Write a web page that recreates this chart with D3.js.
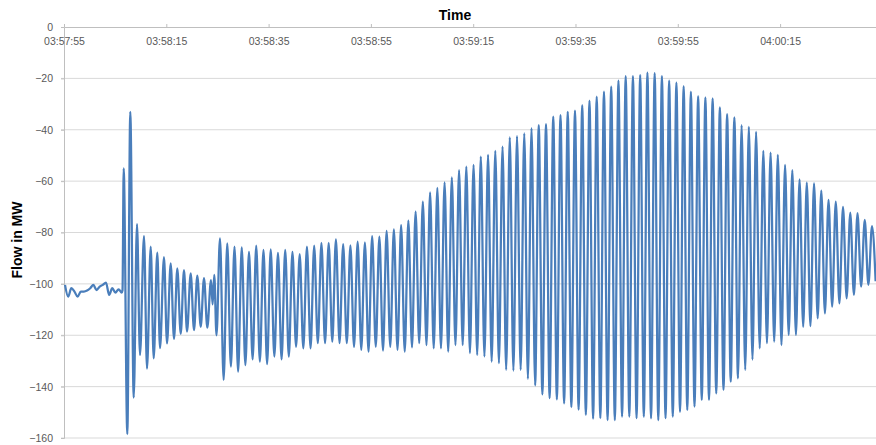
<!DOCTYPE html>
<html>
<head>
<meta charset="utf-8">
<script src="https://cdn.jsdelivr.net/npm/d3@7"></script>
<style>
  body { margin: 0; background: #fff; }
  svg { display: block; }
  text { font-family: "Liberation Sans", Arial, sans-serif; }
</style>
</head>
<body>
<svg id="chart" width="876" height="445"></svg>
<script>
// Axis ticks
const timeTicks = ["03:57:55", "03:58:15", "03:58:35", "03:58:55", "03:59:15", "03:59:35", "03:59:55", "04:00:15"];
const yTicks = [0, -20, -40, -60, -80, -100, -120, -140, -160];

// Steady flow before the disturbance (MW), sampled every baselineStep seconds
const baselineStart = 0.2;
const baselineStep = 0.616;
const baseline = [-100.4, -105.0, -101.7, -103.0, -105.0, -103.0, -103.0, -102.6, -101.7, -100.4,
                  -102.4, -101.1, -100.4, -99.5, -104.3, -101.7, -103.4, -102.1, -103.4];

// Disturbance and first decaying swing: seconds after 03:57:55, flow in MW
const eventTimes  = [11.44, 11.67, 12.38, 12.96, 13.63, 14.27, 14.86, 15.64, 16.23, 16.95,
                     17.54, 18.24, 18.77, 19.55, 20.14, 20.86, 21.51, 22.15, 22.82, 23.46,
                     24.05, 24.77, 25.42, 26.06, 26.73, 27.37, 28.02, 28.74, 29.05, 29.38, 29.81];
const eventValues = [-102.5, -55, -158.5, -33, -144.3, -76.7, -127.7, -81.4, -133, -85.5,
                     -129, -87.8, -125, -89.6, -123.2, -92, -121.5, -94, -119.5, -94.6,
                     -118.6, -95.9, -118, -96.8, -116.7, -97.8, -117, -98.5, -108, -96.5, -120];

// Sustained power swing: one peak and one trough per cycle
const swingStart = 30.50;   // s, first peak
const swingPeriod = 1.4163; // s per cycle
const swingPeaks = [
  -82.3, -84.2, -85.5, -85.8, -87.5, -85.1, -86.8, -86.6, -87.9, -86.8,
  -87.5, -88.4, -85.5, -85.1, -84.0, -84.0, -82.7, -84.5, -85.0, -83.6,
  -83.8, -81.4, -81.6, -79.4, -78.8, -77.1, -75.4, -71.9, -68.0, -64.4,
  -62.6, -60.5, -58.5, -55.7, -54.4, -53.7, -50.5, -49.8, -48.2, -46.6,
  -43.0, -42.5, -41.4, -39.4, -38.2, -37.8, -34.9, -34.3, -33.0, -32.6,
  -30.4, -28.7, -27.1, -25.2, -23.2, -20.9, -19.1, -19.1, -18.7, -17.8,
  -18.0, -19.1, -20.9, -21.7, -23.0, -25.2, -26.9, -27.4, -27.8, -31.3,
  -33.9, -35.2, -38.2, -38.9, -40.8, -48.2, -48.9, -49.8, -53.7, -55.7,
  -59.3, -60.6, -60.9, -63.7, -67.3, -68.0, -70.0, -72.3, -72.5, -75.1,
  -77.5];
const swingTroughs = [
  -137.4, -132.2, -134.2, -131.6, -129.4, -130.3, -131.2, -128.3, -129.4, -128.3,
  -124.5, -125.1, -125.1, -123.1, -123.1, -122.5, -123.1, -123.1, -124.5, -125.7,
  -126.4, -124.5, -126.0, -124.5, -125.7, -126.4, -124.7, -123.1, -123.8, -125.1,
  -125.1, -126.4, -123.8, -123.8, -127.0, -127.7, -128.3, -130.3, -130.9, -133.5,
  -133.8, -133.5, -137.0, -139.5, -143.0, -144.5, -145.0, -146.5, -148.0, -149.0,
  -151.0, -152.5, -152.3, -153.0, -153.0, -151.7, -151.7, -152.3, -151.7, -152.3,
  -153.0, -152.3, -151.7, -149.8, -149.1, -147.8, -145.2, -145.2, -142.6, -141.3,
  -138.1, -136.8, -133.5, -129.5, -125.1, -123.1, -122.5, -123.8, -119.9, -119.9,
  -116.7, -116.4, -113.4, -111.5, -108.9, -107.6, -105.6, -104.3, -101.1, -100.4,
  -99.0];

const parse = d3.timeParse("%H:%M:%S");
const fmt = d3.timeFormat("%H:%M:%S");
const t0 = parse(timeTicks[0]);
const at = s => new Date(t0.getTime() + s * 1000);

// Assemble the time series
const series = [];
baseline.forEach((v, i) => series.push({ t: at(baselineStart + i * baselineStep), v }));
eventTimes.forEach((s, i) => series.push({ t: at(s), v: eventValues[i] }));
swingPeaks.forEach((v, i) => {
  series.push({ t: at(swingStart + i * swingPeriod), v });
  series.push({ t: at(swingStart + (i + 0.5) * swingPeriod), v: swingTroughs[i] });
});

const plot = { left: 64, right: 876, top: 27, bottom: 438 };

const x = d3.scaleTime().domain([t0, at(158.75)]).range([plot.left, plot.right]);
const y = d3.scaleLinear().domain([-160, 0]).range([plot.bottom, plot.top]);

const svg = d3.select("#chart");

// Horizontal gridlines
svg.append("g")
  .selectAll("line")
  .data(yTicks.filter(d => d !== 0))
  .join("line")
  .attr("x1", plot.left - 3).attr("x2", plot.right)
  .attr("y1", d => y(d)).attr("y2", d => y(d))
  .attr("stroke", "#d9d9d9").attr("stroke-width", 1);

// Vertical axis
const yAxis = svg.append("g")
  .attr("transform", `translate(${plot.left},0)`)
  .call(d3.axisLeft(y).tickValues(yTicks).tickSize(3).tickPadding(8).tickFormat(d3.format("d")));
yAxis.select(".domain").attr("stroke", "#bfbfbf");
yAxis.selectAll(".tick line").attr("stroke", "#bfbfbf");
yAxis.selectAll("text").attr("fill", "#595959").style("font-size", "10.5px");

// Time axis along the zero line, labels hanging below it
const xAxis = svg.append("g")
  .attr("transform", `translate(0,${y(0)})`)
  .call(d3.axisTop(x).tickValues(timeTicks.map(parse)).tickSize(3).tickSizeOuter(0).tickFormat(fmt));
xAxis.select(".domain").attr("stroke", "#bfbfbf");
xAxis.selectAll(".tick line").attr("stroke", "#bfbfbf");
xAxis.selectAll("text")
  .attr("y", 10.5).attr("dy", "0.71em")
  .attr("fill", "#595959").style("font-size", "10.5px");

// Flow trace
svg.append("path")
  .datum(series)
  .attr("fill", "none")
  .attr("stroke", "#4a7ebb")
  .attr("stroke-width", 2.25)
  .attr("stroke-linejoin", "round")
  .attr("d", d3.line().x(d => x(d.t)).y(d => y(d.v)).curve(d3.curveMonotoneX));

// Titles
svg.append("text")
  .attr("x", 455).attr("y", 20)
  .attr("text-anchor", "middle")
  .style("font-size", "14px").style("font-weight", "bold")
  .attr("fill", "#000")
  .text("Time");

svg.append("text")
  .attr("transform", "translate(22,240) rotate(-90)")
  .attr("text-anchor", "middle")
  .style("font-size", "14px").style("font-weight", "bold")
  .attr("fill", "#000")
  .text("Flow in MW");
</script>
</body>
</html>
